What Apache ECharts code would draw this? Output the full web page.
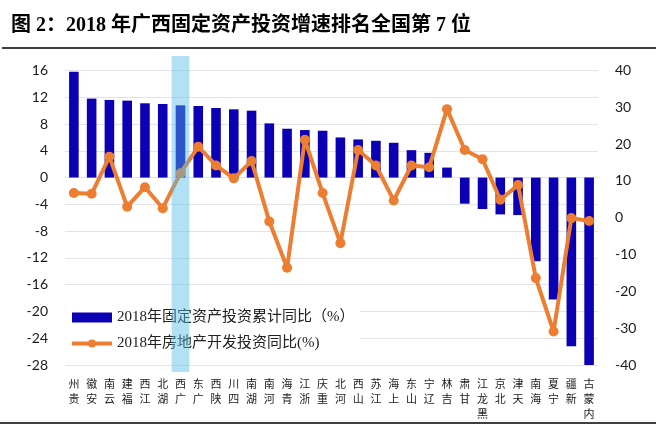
<!DOCTYPE html>
<html>
<head>
<meta charset="utf-8">
<script src="https://cdn.jsdelivr.net/npm/echarts@6/dist/echarts.min.js"></script>
<style>
html,body{margin:0;padding:0;background:#fff;}
#c{width:656px;height:429px;}
</style>
</head>
<body>
<div id="c"></div>
<script>
var titleText = '图 2：2018 年广西固定资产投资增速排名全国第 7 位';
var categories = ['贵州','安徽','云南','福建','江西','湖北','广西','广东','陕西','四川','湖南','河南','青海','浙江','重庆','河北','山西','江苏','上海','山东','辽宁','吉林','甘肃','黑龙江','北京','天津','海南','宁夏','新疆','内蒙古'];
var faiName = '2018年固定资产投资累计同比（%）';
var faiValues = [15.8, 11.8, 11.6, 11.5, 11.1, 11.0, 10.8, 10.7, 10.4, 10.2, 10.0, 8.1, 7.3, 7.1, 7.0, 6.0, 5.7, 5.5, 5.2, 4.1, 3.7, 1.5, -3.9, -4.7, -5.5, -5.6, -12.5, -18.2, -25.2, -28.0];
var reName = '2018年房地产开发投资同比(%)';
var reValues = [6.7, 6.5, 16.6, 3.0, 8.3, 2.6, 12.1, 19.3, 14.2, 10.7, 15.4, -1.0, -13.6, 21.2, 6.7, -6.9, 18.4, 14.2, 4.7, 14.2, 13.7, 29.5, 18.4, 15.9, 4.9, 8.9, -16.4, -30.9, -0.1, -0.9];
var highlightCategory = '广西';
var leftTicks = {min: -28, max: 16, interval: 4};
var rightTicks = {min: -40, max: 40, interval: 10};

var serifCjk = "'Liberation Serif','Noto Sans CJK SC',serif";
var chart = echarts.init(document.getElementById('c'), null, {renderer: 'canvas'});
var highlightData = categories.map(function (c) { return c === highlightCategory ? 1 : null; });

chart.setOption({
  animation: false,
  backgroundColor: '#fff',
  title: {
    text: titleText,
    left: 6, top: 11,
    textStyle: {fontSize: 20, fontWeight: 'bold', color: '#000', fontFamily: serifCjk}
  },
  graphic: [
    {type: 'line', shape: {x1: 2, y1: 48, x2: 656, y2: 48}, style: {stroke: '#000', lineWidth: 1.5}},
    {type: 'line', shape: {x1: 0, y1: 423, x2: 656, y2: 423}, style: {stroke: '#000', lineWidth: 1.5}}
  ],
  legend: {
    orient: 'vertical',
    left: 66, top: 308,
    itemWidth: 40, itemHeight: 10, itemGap: 11,
    backgroundColor: '#fff',
    padding: [2, 6, 5, 4],
    textStyle: {fontSize: 15, fontFamily: serifCjk, color: '#222', lineHeight: 14},
    data: [
      {name: faiName, icon: 'rect'},
      {name: reName, lineStyle: {width: 4, color: '#ED7D31'}}
    ]
  },
  grid: [
    {left: 65, right: 58, top: 70.5, bottom: 64},
    {left: 65, right: 58, top: 56, bottom: 57}
  ],
  xAxis: [
    {
      type: 'category', gridIndex: 0, data: categories,
      axisLine: {show: false, onZero: false},
      axisTick: {show: false},
      axisLabel: {
        interval: 0, margin: 11, fontSize: 11, lineHeight: 15, color: '#222',
        fontFamily: "'Noto Sans CJK SC'",
        formatter: function (v) { return v.split('').reverse().join('\n'); }
      }
    },
    {type: 'category', gridIndex: 1, data: categories, show: false}
  ],
  yAxis: [
    {
      type: 'value', gridIndex: 0, position: 'left',
      min: leftTicks.min, max: leftTicks.max, interval: leftTicks.interval,
      axisLine: {show: false}, axisTick: {show: false},
      axisLabel: {fontSize: 14, fontFamily: 'Lato', color: '#1a1a1a', margin: 17},
      splitLine: {lineStyle: {color: '#e2e2e8', width: 1}}
    },
    {
      type: 'value', gridIndex: 0, position: 'right',
      min: rightTicks.min, max: rightTicks.max, interval: rightTicks.interval,
      axisLine: {show: false}, axisTick: {show: false},
      axisLabel: {fontSize: 14, fontFamily: 'Lato', color: '#1a1a1a', margin: 17},
      splitLine: {show: false}
    },
    {type: 'value', gridIndex: 1, min: 0, max: 1, show: false}
  ],
  series: [
    {
      name: faiName, type: 'bar', xAxisIndex: 0, yAxisIndex: 0,
      data: faiValues, barWidth: '54%',
      itemStyle: {color: '#0c00b4'}, z: 2
    },
    {
      name: reName, type: 'line', xAxisIndex: 0, yAxisIndex: 1,
      data: reValues, symbol: 'circle', symbolSize: 10,
      lineStyle: {color: '#ED7D31', width: 4},
      itemStyle: {color: '#ED7D31'}, z: 3
    },
    {
      name: 'highlight', type: 'bar', xAxisIndex: 1, yAxisIndex: 2,
      data: highlightData, barWidth: '100%', silent: true,
      itemStyle: {color: 'rgba(84,188,233,0.45)'}, z: 10
    }
  ]
});
</script>
</body>
</html>
